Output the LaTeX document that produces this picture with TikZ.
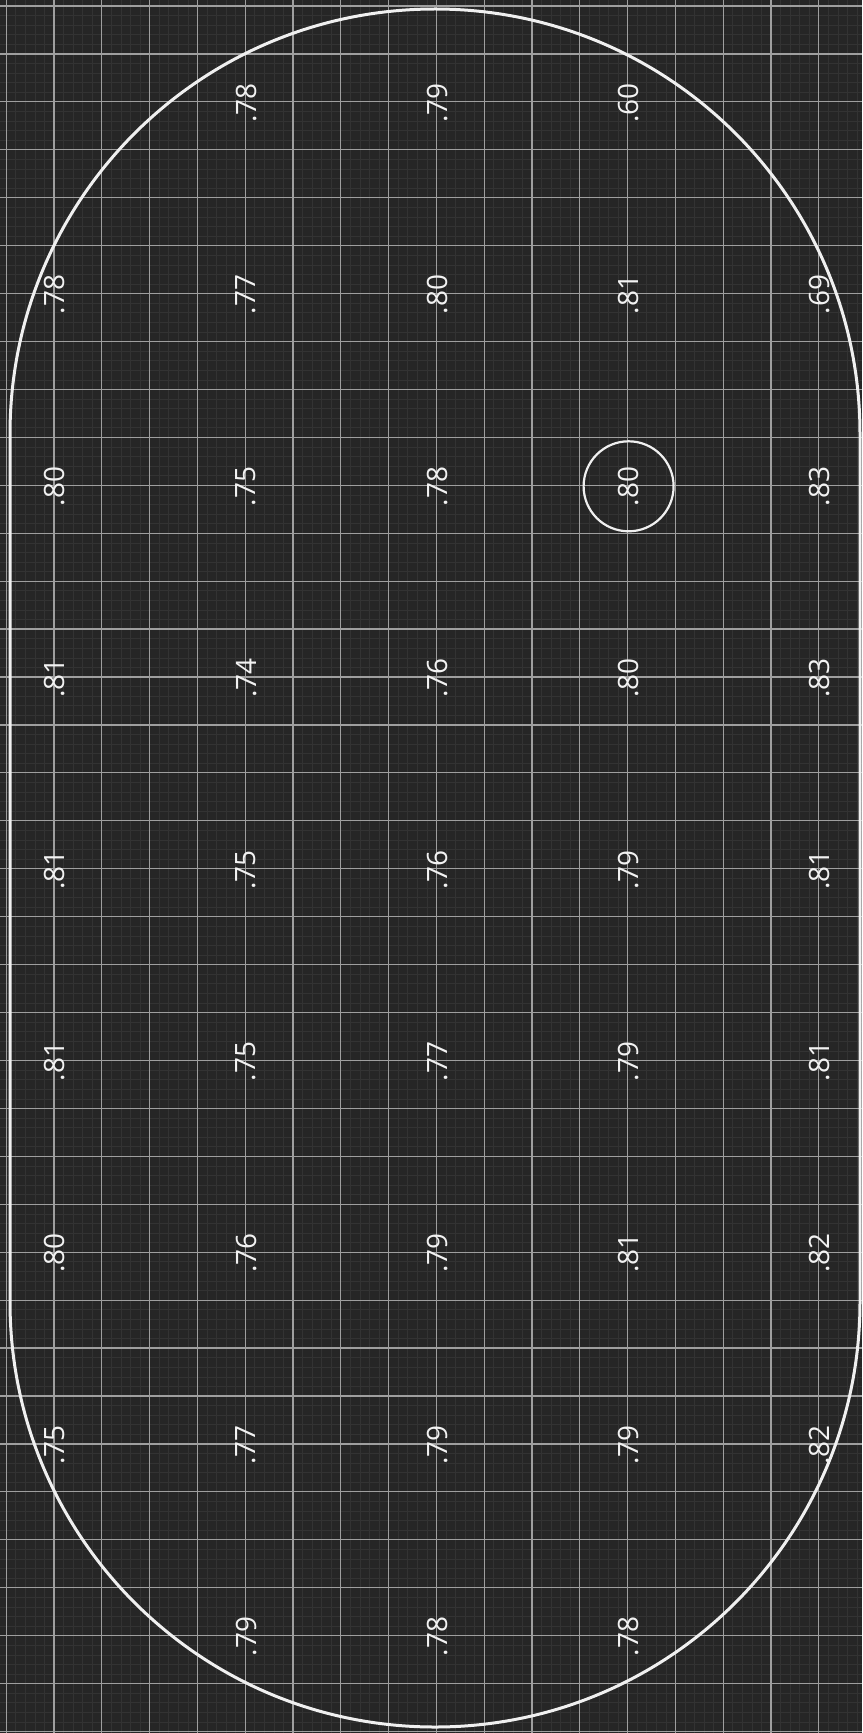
\documentclass[tikz,border=0pt]{standalone}
\usepackage{fontspec}
\newfontfamily\hand{Open Sans}
\begin{document}
\begin{tikzpicture}[x=0.5pt,y=-0.5pt,
  minorline/.style={draw=gray!40!black,line width=0.3pt},
  majorline/.style={draw=gray!75,line width=0.6pt},
  outline/.style={draw=white!94!black,line width=1.5pt},
  reading/.style={rotate=90,text=white!95!black,inner sep=0pt,font=\hand\fontsize{14}{14}\selectfont}]
\useasboundingbox (0,0) rectangle (862,1733);
\fill[black!85] (0,0) rectangle (862,1733);
% minor grid
\foreach \i in {-1,...,18} {\foreach \s in {1,...,4} {\draw[minorline] ({6.2+47.8*\i+9.56*\s},0) -- ({6.2+47.8*\i+9.56*\s},1733);}}
\foreach \j in {-1,...,36} {\foreach \s in {1,...,4} {\draw[minorline] (0,{6+47.93*\j+9.586*\s}) -- (862,{6+47.93*\j+9.586*\s});}}
% major grid
\foreach \i in {0,...,18} {\draw[majorline] ({6.2+47.8*\i},0) -- ({6.2+47.8*\i},1733);}
\foreach \j in {0,...,36} {\draw[majorline] (0,{6+47.93*\j}) -- (862,{6+47.93*\j});}
% stadium outline
\draw[outline,rounded corners=212.5pt] (10,9) rectangle (860,1727);
% readings
\foreach \r/\c/\v in {
  1/2/.78,1/3/.79,1/4/.60,
  2/1/.78,2/2/.77,2/3/.80,2/4/.81,2/5/.69,
  3/1/.80,3/2/.75,3/3/.78,3/4/.80,3/5/.83,
  4/1/.81,4/2/.74,4/3/.76,4/4/.80,4/5/.83,
  5/1/.81,5/2/.75,5/3/.76,5/4/.79,5/5/.81,
  6/1/.81,6/2/.75,6/3/.77,6/4/.79,6/5/.81,
  7/1/.80,7/2/.76,7/3/.79,7/4/.81,7/5/.82,
  8/1/.75,8/2/.77,8/3/.79,8/4/.79,8/5/.82,
  9/2/.79,9/3/.78,9/4/.78} {
  \node[reading] (n\r-\c) at ({6.2+47.8*(4*\c-3)+1},{6+47.93*(4*\r-2)+1}) {\v};
}
\node[draw=white!94!black,line width=1.1pt,circle,minimum size=45pt,inner sep=0pt] (ring) at (n3-4) {};
\end{tikzpicture}
\end{document}
